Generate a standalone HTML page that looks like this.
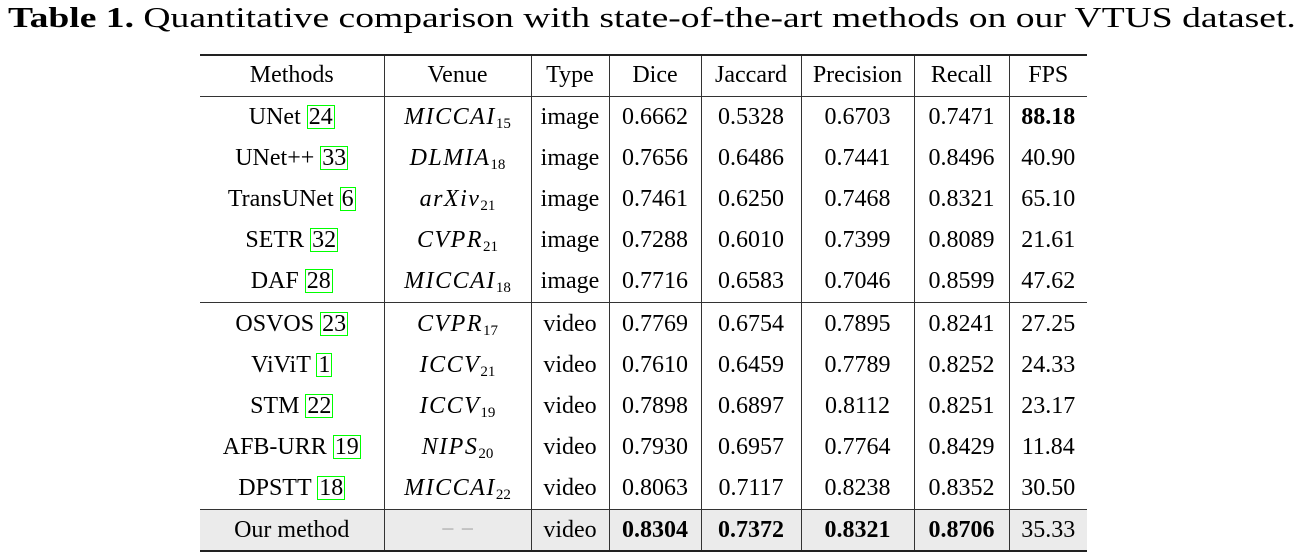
<!DOCTYPE html>
<html><head><meta charset="utf-8"><style>
body{margin:0;width:1300px;height:558px;background:#fff;position:relative;overflow:hidden;font-family:"Liberation Serif",serif;color:#000}
#title{position:absolute;left:8px;top:3px;font-size:28px;white-space:nowrap;transform-origin:0 0;transform:scaleX(1.342)}
table{position:absolute;left:200px;top:54px;border-collapse:collapse;table-layout:fixed;font-size:24px}
td{text-align:center;padding:0;height:41.2px;white-space:nowrap;border-left:1.5px solid #333}
td:first-child{border-left:none}
tr.h td{height:39.5px;border-bottom:1.5px solid #333}
table{border-top:2px solid #222;border-bottom:2px solid #222}
tr.sep td{border-top:1.5px solid #333}
tr.ours td{background:#ebebeb;border-top:1.5px solid #333;height:39.5px}
.c{border:1.3px solid #0f0;padding:0 1px;line-height:22px;display:inline-block}
i{font-style:italic;letter-spacing:1.5px}
sub{font-size:15px;font-style:normal;letter-spacing:0;vertical-align:-4px;line-height:0}
b{font-weight:bold}
.d{color:#aaa}
</style></head><body>
<div id="title"><b>Table 1.</b> Quantitative comparison with state-of-the-art methods on our VTUS dataset.</div>
<table>
<colgroup><col style="width:184px"><col style="width:147px"><col style="width:78px"><col style="width:92px"><col style="width:100px"><col style="width:113px"><col style="width:95px"><col style="width:78px"></colgroup>
<tr class="h"><td>Methods</td><td>Venue</td><td>Type</td><td>Dice</td><td>Jaccard</td><td>Precision</td><td>Recall</td><td>FPS</td></tr>
<tr><td>UNet <span class="c">24</span></td><td><i>MICCAI</i><sub>15</sub></td><td>image</td><td>0.6662</td><td>0.5328</td><td>0.6703</td><td>0.7471</td><td><b>88.18</b></td></tr>
<tr><td>UNet++ <span class="c">33</span></td><td><i>DLMIA</i><sub>18</sub></td><td>image</td><td>0.7656</td><td>0.6486</td><td>0.7441</td><td>0.8496</td><td>40.90</td></tr>
<tr><td>TransUNet <span class="c">6</span></td><td><i>arXiv</i><sub>21</sub></td><td>image</td><td>0.7461</td><td>0.6250</td><td>0.7468</td><td>0.8321</td><td>65.10</td></tr>
<tr><td>SETR <span class="c">32</span></td><td><i>CVPR</i><sub>21</sub></td><td>image</td><td>0.7288</td><td>0.6010</td><td>0.7399</td><td>0.8089</td><td>21.61</td></tr>
<tr><td>DAF <span class="c">28</span></td><td><i>MICCAI</i><sub>18</sub></td><td>image</td><td>0.7716</td><td>0.6583</td><td>0.7046</td><td>0.8599</td><td>47.62</td></tr>
<tr class="sep"><td>OSVOS <span class="c">23</span></td><td><i>CVPR</i><sub>17</sub></td><td>video</td><td>0.7769</td><td>0.6754</td><td>0.7895</td><td>0.8241</td><td>27.25</td></tr>
<tr><td>ViViT <span class="c">1</span></td><td><i>ICCV</i><sub>21</sub></td><td>video</td><td>0.7610</td><td>0.6459</td><td>0.7789</td><td>0.8252</td><td>24.33</td></tr>
<tr><td>STM <span class="c">22</span></td><td><i>ICCV</i><sub>19</sub></td><td>video</td><td>0.7898</td><td>0.6897</td><td>0.8112</td><td>0.8251</td><td>23.17</td></tr>
<tr><td>AFB-URR <span class="c">19</span></td><td><i>NIPS</i><sub>20</sub></td><td>video</td><td>0.7930</td><td>0.6957</td><td>0.7764</td><td>0.8429</td><td>11.84</td></tr>
<tr><td>DPSTT <span class="c">18</span></td><td><i>MICCAI</i><sub>22</sub></td><td>video</td><td>0.8063</td><td>0.7117</td><td>0.8238</td><td>0.8352</td><td>30.50</td></tr>
<tr class="ours"><td>Our method</td><td class="d">− −</td><td>video</td><td><b>0.8304</b></td><td><b>0.7372</b></td><td><b>0.8321</b></td><td><b>0.8706</b></td><td>35.33</td></tr>
</table>
</body></html>
